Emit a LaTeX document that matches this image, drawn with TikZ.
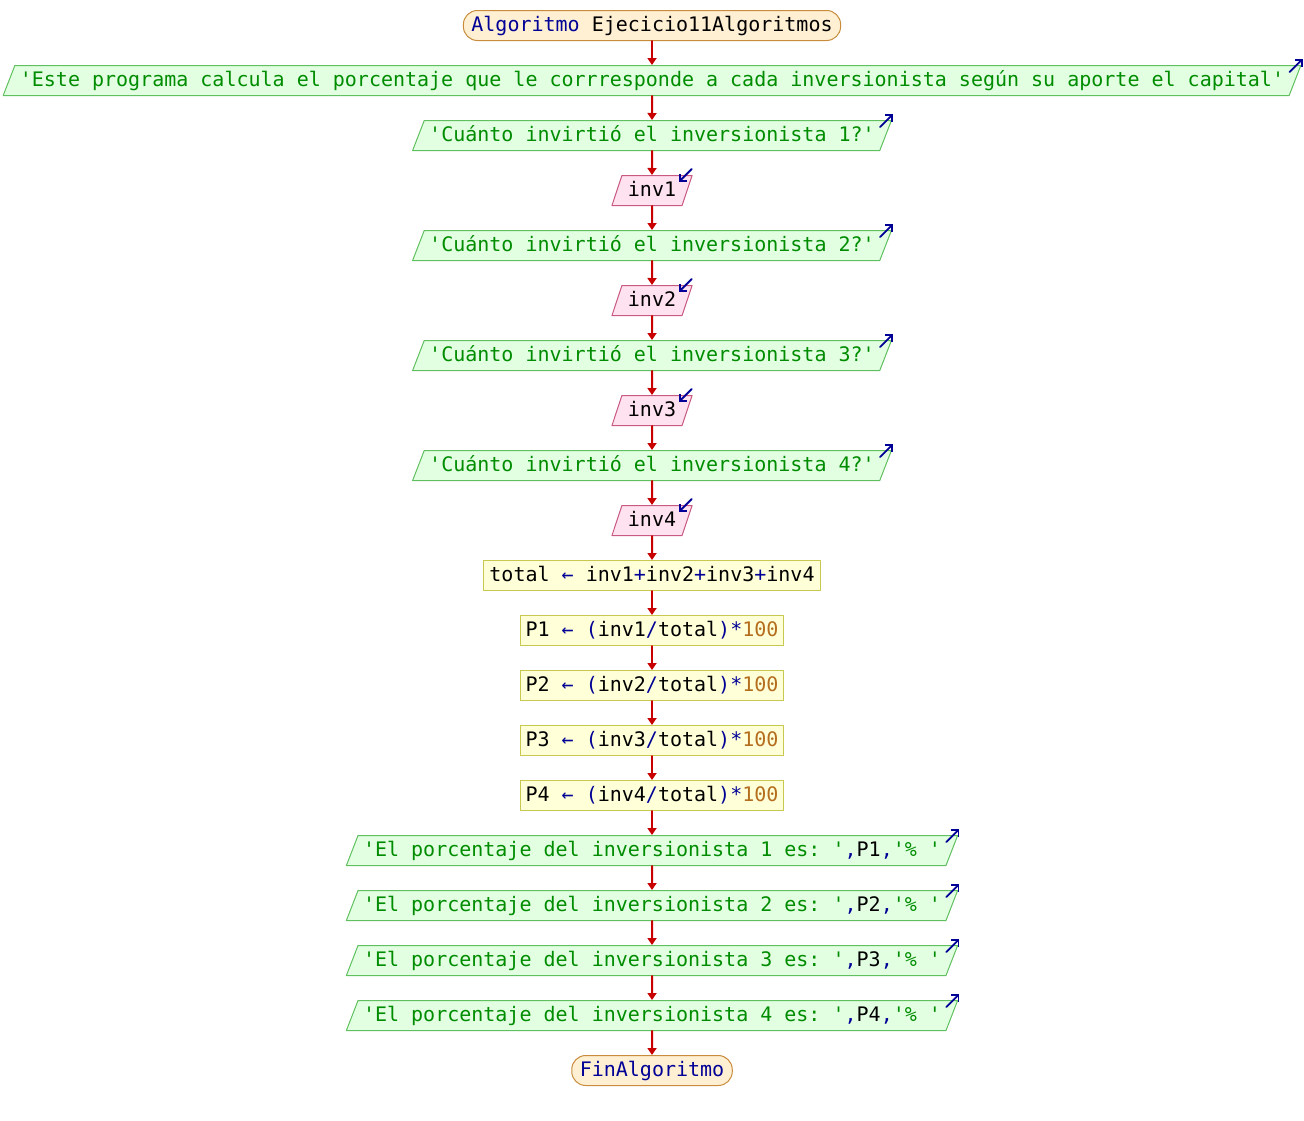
\documentclass[tikz,border=0pt]{standalone}
\usepackage{fontspec}
\setmonofont{DejaVu Sans Mono}
\usetikzlibrary{shapes.geometric,arrows.meta}
\definecolor{fondoIni}{RGB}{255,240,212}
\definecolor{bordeIni}{RGB}{200,140,60}
\definecolor{fondoSal}{RGB}{226,255,226}
\definecolor{bordeSal}{RGB}{96,192,96}
\definecolor{fondoEnt}{RGB}{255,226,240}
\definecolor{bordeEnt}{RGB}{200,90,130}
\definecolor{fondoAsig}{RGB}{255,255,216}
\definecolor{bordeAsig}{RGB}{200,200,80}
\definecolor{verde}{RGB}{0,140,0}
\definecolor{azul}{RGB}{0,0,150}
\definecolor{rojo}{RGB}{200,0,0}
\definecolor{numero}{RGB}{180,110,30}
\tikzset{
  caja/.style={line width=1pt, inner ysep=5.5pt, text height=15pt, text depth=4pt},
  inicio/.style={caja, draw=bordeIni, fill=fondoIni, rounded corners=14pt, inner xsep=8pt},
  salida/.style={caja, trapezium, trapezium left angle=68.8, trapezium right angle=111.2,
    draw=bordeSal, fill=fondoSal, text=verde, inner xsep=5pt},
  entrada/.style={caja, trapezium, trapezium left angle=71.6, trapezium right angle=108.4,
    draw=bordeEnt, fill=fondoEnt, inner xsep=6pt},
  asignar/.style={caja, draw=bordeAsig, fill=fondoAsig, inner xsep=5.5pt},
  flujo/.style={draw=rojo, line width=2pt, -{Triangle[width=9pt,length=7pt]}},
  flechaAzul/.style={draw=azul, line width=1.8pt, -{Straight Barb[length=5pt,width=10pt]}}
}
\newcommand{\az}[1]{\textcolor{azul}{#1}}
\begin{document}
\begin{tikzpicture}[x=1pt, y=1pt, font=\ttfamily\fontsize{20}{24}\selectfont, line join=round, line cap=round]
  \def\xc{652} % eje del diagrama
  \useasboundingbox (0,0) rectangle (1304,-1120);
  \node[inicio] (ini) at (\xc,-25.5) {\az{Algoritmo} Ejecicio11Algoritmos};
  \node[salida] (msg) at (\xc,-80.5) {'Este programa calcula el porcentaje que le corrresponde a cada inversionista según su aporte el capital'};
  \foreach \i in {1,...,4} {
    \node[salida] (preg\i) at (\xc,{-135.5-110*(\i-1)}) {'Cuánto invirtió el inversionista \i?'};
    \node[entrada] (inv\i) at (\xc,{-190.5-110*(\i-1)}) {inv\i};
  }
  \node[asignar] (tot) at (\xc,-575.5) {total \az{←} inv1\az{+}inv2\az{+}inv3\az{+}inv4};
  \foreach \i in {1,...,4} {
    \node[asignar] (p\i) at (\xc,{-630.5-55*(\i-1)}) {P\i\ \az{←} \az{(}inv\i\az{/}total\az{)*}\textcolor{numero}{100}};
    \node[salida] (sal\i) at (\xc,{-850.5-55*(\i-1)}) {'El porcentaje del inversionista \i\ es: '\az{,}\textcolor{black}{P\i}\az{,}'\%\ '};
  }
  \node[inicio] (fin) at (\xc,-1070.5) {\az{FinAlgoritmo}};
  % conectores
  \foreach \a/\b in {ini/msg, msg/preg1, preg1/inv1, inv1/preg2, preg2/inv2, inv2/preg3,
      preg3/inv3, inv3/preg4, preg4/inv4, inv4/tot, tot/p1, p1/p2, p2/p3, p3/p4,
      p4/sal1, sal1/sal2, sal2/sal3, sal3/sal4, sal4/fin}
    \draw[flujo] (\a) -- (\b);
  % flechas de salida y entrada
  \foreach \n in {msg, preg1, preg2, preg3, preg4, sal1, sal2, sal3, sal4}
    \draw[flechaAzul] ([shift={(-12,-7)}]\n.top right corner) -- ([shift={(1,6)}]\n.top right corner);
  \foreach \i in {1,...,4}
    \draw[flechaAzul] ([shift={(-1,6)}]inv\i.top right corner) -- ([shift={(-14,-7)}]inv\i.top right corner);
\end{tikzpicture}
\end{document}
